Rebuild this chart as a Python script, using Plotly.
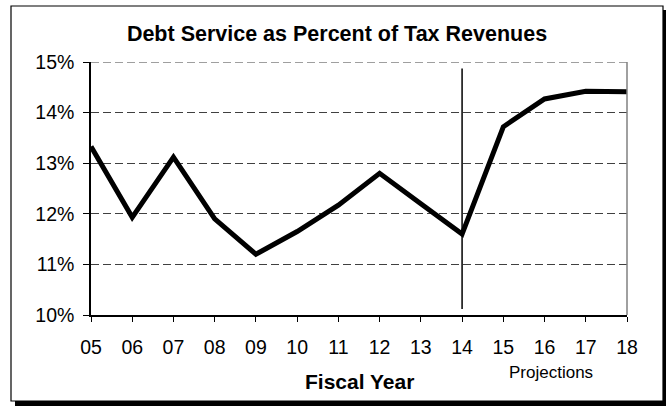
import plotly.graph_objects as go

# ---- data ----
fiscal_years = ["05", "06", "07", "08", "09", "10", "11", "12", "13", "14", "15", "16", "17", "18"]
debt_service_pct = [13.33, 11.93, 13.12, 11.90, 11.20, 11.65, 12.17, 12.80, 12.20, 11.60, 13.72, 14.27, 14.42, 14.41]
y_ticks = [10, 11, 12, 13, 14, 15]
projection_start = "14"
divider_span = [10.12, 14.87]

W, H = 666, 406
L, R, T, B = 91, 627, 62, 315   # plot-area pixel box


def px(x):
    return (x - L) / (R - L)


def py(y):
    return (B - y) / (B - T)


FONT = "Liberation Sans, Arial, sans-serif"
x_idx = list(range(len(fiscal_years)))
div_x = fiscal_years.index(projection_start)

fig = go.Figure()
fig.add_trace(go.Scatter(
    x=x_idx, y=debt_service_pct, mode="lines",
    line=dict(color="black", width=5), hoverinfo="skip", showlegend=False,
))

shapes = [
    # frame shadow
    dict(type="rect", xref="paper", yref="paper", layer="below",
         x0=px(15), x1=px(666), y0=py(406), y1=py(10),
         fillcolor="black", line=dict(width=0)),
    # frame
    dict(type="rect", xref="paper", yref="paper", layer="below",
         x0=px(11), x1=px(663), y0=py(401), y1=py(6),
         fillcolor="white", line=dict(color="black", width=1.2)),
    # top dashed gridline at the range edge
    dict(type="line", xref="paper", yref="y", layer="below",
         x0=0, x1=1, y0=y_ticks[-1], y1=y_ticks[-1],
         line=dict(color="#404040", width=1, dash="8px,4px")),
    # right plot border
    dict(type="line", xref="paper", yref="paper",
         x0=1, x1=1, y0=0, y1=1, line=dict(color="#808080", width=1.5)),
    # projection divider
    dict(type="line", xref="x", yref="y",
         x0=div_x, x1=div_x,
         y0=divider_span[0], y1=divider_span[1],
         line=dict(color="black", width=1.5)),
]

annotations = [
    dict(text="<b>Fiscal Year</b>", xref="paper", yref="paper",
         x=0.5, y=py(381), xanchor="center", yanchor="middle", showarrow=False,
         font=dict(family=FONT, size=21, color="black")),
    dict(text="Projections", xref="paper", yref="paper",
         x=px(551), y=py(372), xanchor="center", yanchor="middle", showarrow=False,
         font=dict(family=FONT, size=17, color="black")),
]

fig.update_layout(
    width=W, height=H,
    margin=dict(l=L, r=W - R, t=T, b=H - B, pad=0),
    paper_bgcolor="white", plot_bgcolor="rgba(0,0,0,0)",
    title=dict(text="<b>Debt Service as Percent of Tax Revenues</b>",
               x=337 / W, y=1 - 33 / H, xref="container", yref="container",
               xanchor="center", yanchor="middle",
               font=dict(family=FONT, size=21.5, color="black")),
    shapes=shapes, annotations=annotations,
    font=dict(family=FONT, size=19, color="black"),
    xaxis=dict(range=[0, len(fiscal_years) - 1],
               tickvals=x_idx, ticktext=fiscal_years,
               showgrid=False, zeroline=False,
               showline=True, linecolor="black", linewidth=1.5,
               ticks="outside", ticklen=5, tickcolor="black", tickwidth=1,
               ticklabelstandoff=9,
               tickfont=dict(family=FONT, size=19.5, color="black")),
    yaxis=dict(range=[y_ticks[0], y_ticks[-1]], tickvals=y_ticks,
               ticktext=[f"{v}%" for v in y_ticks],
               showgrid=True, gridcolor="#404040", gridwidth=1, griddash="8px,4px",
               zeroline=False, showline=True, linecolor="black", linewidth=1.5,
               ticks="outside", ticklen=6, tickcolor="black", tickwidth=1,
               ticklabelstandoff=5,
               tickfont=dict(family=FONT, size=19.5, color="black")),
)

fig.write_html("out.html")
